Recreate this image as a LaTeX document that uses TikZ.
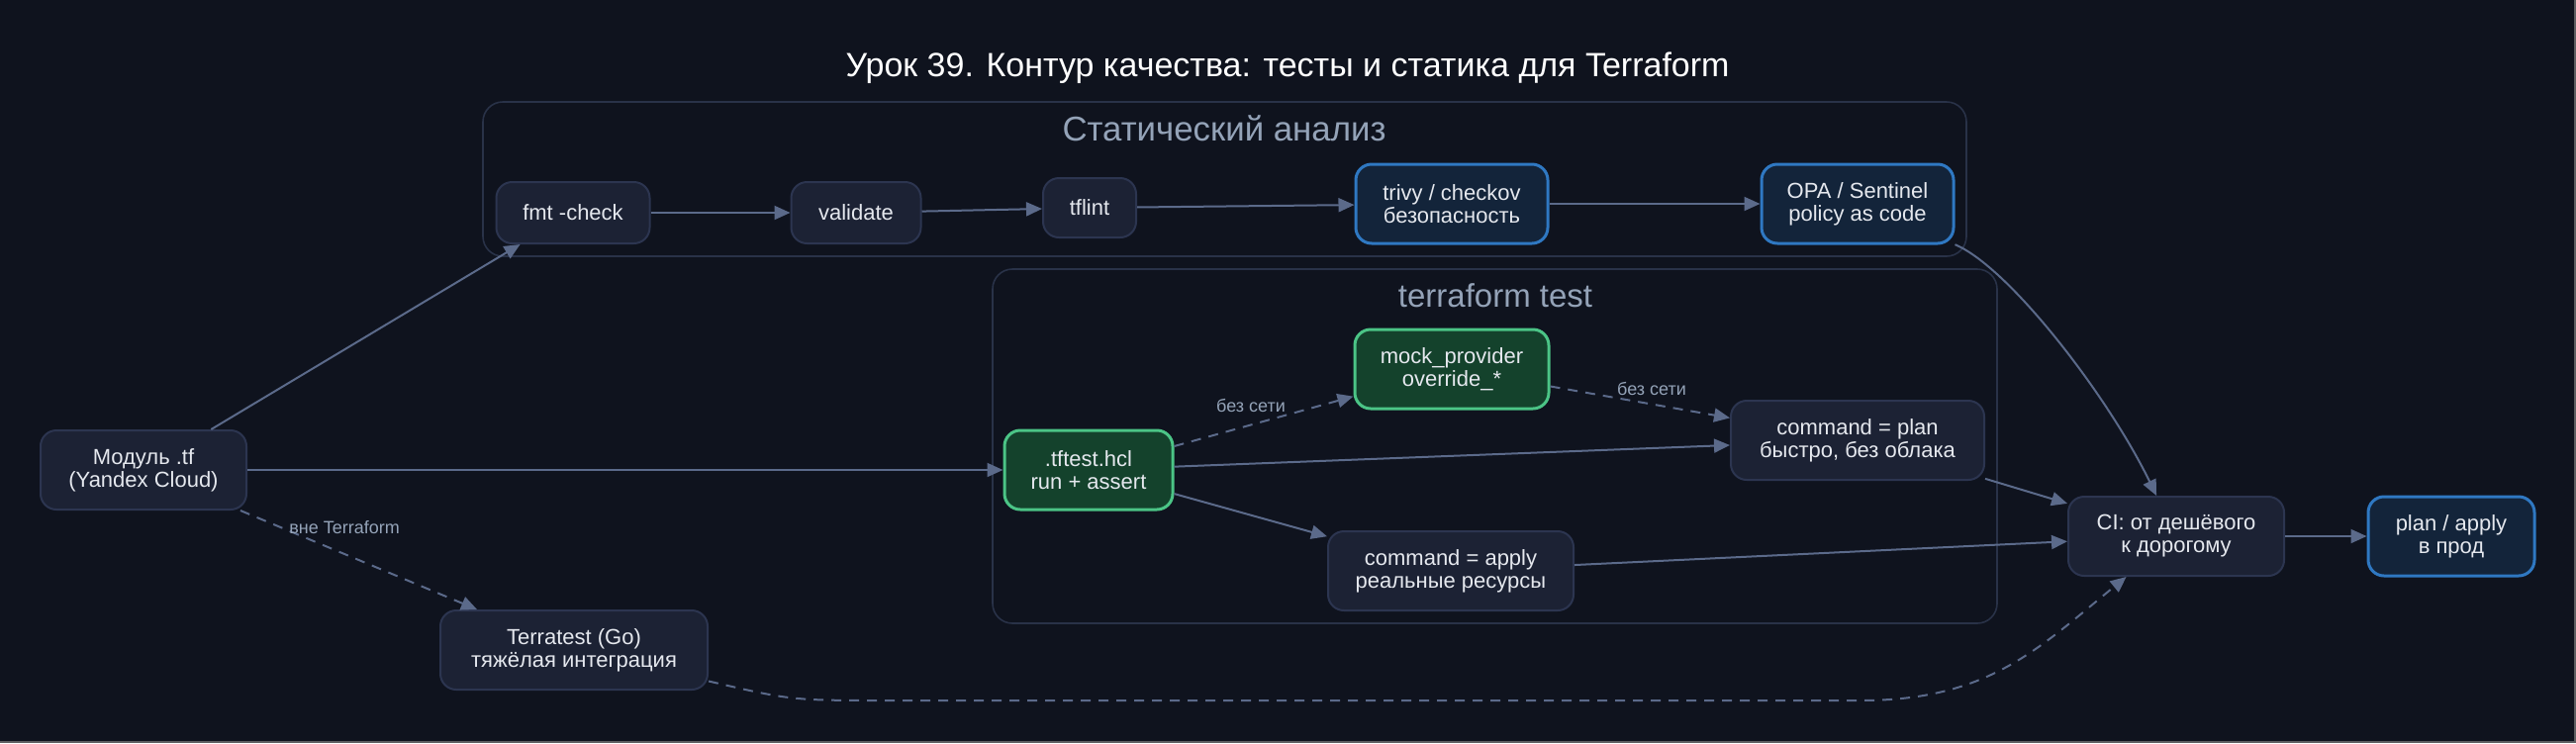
\documentclass[tikz,border=0pt]{standalone}
\usepackage{fontspec}
\setmainfont{Liberation Sans}
\usetikzlibrary{arrows.meta}

\definecolor{bgc}{HTML}{0F131E}
\definecolor{boxfill}{HTML}{1C2234}
\definecolor{boxline}{HTML}{2C3550}
\definecolor{bluefill}{HTML}{13243A}
\definecolor{blueline}{HTML}{2F78C2}
\definecolor{greenfill}{HTML}{14422C}
\definecolor{greenline}{HTML}{4BC486}
\definecolor{linkc}{HTML}{5B6A8A}
\definecolor{txt}{HTML}{E5E8EE}
\definecolor{muted}{HTML}{94A3B8}
\definecolor{clusterline}{HTML}{293248}

\begin{document}
\begin{tikzpicture}[x=0.5pt, y=-0.5pt,
    box/.style={draw=boxline, fill=boxfill, line width=1pt, rounded corners=8pt,
      text=txt, align=center, font=\fontsize{11}{11.5}\selectfont,
      minimum height=40pt, inner sep=2pt},
    bluebox/.style={box, draw=blueline, fill=bluefill, line width=1.5pt},
    greenbox/.style={box, draw=greenline, fill=greenfill, line width=1.5pt},
    cluster/.style={draw=clusterline, line width=0.8pt, rounded corners=10pt},
    clusterlabel/.style={text=muted, font=\fontsize{16.5}{18}\selectfont},
    lbl/.style={text=muted, font=\fontsize{9}{10}\selectfont, inner sep=1pt},
    link/.style={draw=linkc, line width=1pt, -{Triangle[length=8pt,width=7pt]}},
    dlink/.style={link, dash pattern=on 5pt off 4pt}
  ]
    % background and frame
    \fill[bgc] (0,0) rectangle (2603,751);
    \useasboundingbox (0,0) rectangle (2603,751);
    \draw[gray!70!bgc, line width=1pt] (0,750) -- (2602,750) -- (2602,0);

    \node[text=white, font=\fontsize{17}{19}\selectfont] (title) at (1301,69)
      {Урок 39. Контур качества: тесты и статика для Terraform};

    % clusters
    \draw[cluster] (488,103) rectangle (1987,259);
    \node[clusterlabel, font=\fontsize{17.4}{19}\selectfont] (statlabel) at (1237,130) {Статический анализ};
    \draw[cluster] (1003,272) rectangle (2018,630);
    \node[clusterlabel] (testlabel) at (1511,299) {terraform test};

    % nodes
    \node[box, minimum width=104pt] (mod) at (145,475) {Модуль .tf\\(Yandex Cloud)};
    \node[box, minimum width=77.5pt, minimum height=31pt] (fmt) at (579,215) {fmt -check};
    \node[box, minimum width=65.5pt, minimum height=31pt] (val) at (865,215) {validate};
    \node[box, minimum width=47pt, minimum height=30pt] (tflint) at (1101,210) {tflint};
    \node[bluebox, minimum width=97pt] (trivy) at (1467,206) {trivy / checkov\\безопасность};
    \node[bluebox, minimum width=97pt] (opa) at (1877,206) {OPA / Sentinel\\policy as code};
    \node[greenbox, minimum width=85pt] (tftest) at (1100,475) {.tftest.hcl\\run + assert};
    \node[greenbox, minimum width=98pt] (mock) at (1467,373) {mock\_provider\\override\_*};
    \node[box, minimum width=128pt] (plan) at (1877,445) {command = plan\\быстро, без облака};
    \node[box, minimum width=124pt] (apply) at (1466,577) {command = apply\\реальные ресурсы};
    \node[box, minimum width=135pt] (tt) at (580,657) {Terratest (Go)\\тяжёлая интеграция};
    \node[box, minimum width=109pt] (ci) at (2199,542) {CI: от дешёвого\\к дорогому};
    \node[bluebox, minimum width=84pt] (prod) at (2477,542) {plan / apply\\в прод};

    % edges
    \draw[link] (mod) -- (fmt);
    \draw[link] (fmt) -- (val);
    \draw[link] (val) -- (tflint);
    \draw[link] (tflint) -- (trivy);
    \draw[link] (trivy) -- (opa);
    \draw[link] (opa) .. controls (2030,270) and (2130,400) .. (ci);
    \draw[link] (mod) -- (tftest);
    \draw[dlink] (tftest) -- (mock);
    \draw[dlink] (mock) -- (plan);
    \draw[link] (tftest) -- (plan);
    \draw[link] (tftest) -- (apply);
    \draw[link] (plan) -- (ci);
    \draw[link] (apply) -- (ci);
    \draw[link] (ci) -- (prod);
    \draw[dlink] (mod) -- (tt);
    \draw[dlink] (tt) .. controls (800,708) .. (900,708) -- (1880,708)
      .. controls (2010,708) and (2060,655) .. (ci);

    % edge labels
    \node[lbl, anchor=west] (l1) at (290,533) {вне Terraform};
    \node[lbl] (l2) at (1264,410) {без сети};
    \node[lbl] (l3) at (1669,393) {без сети};
\end{tikzpicture}
\end{document}
